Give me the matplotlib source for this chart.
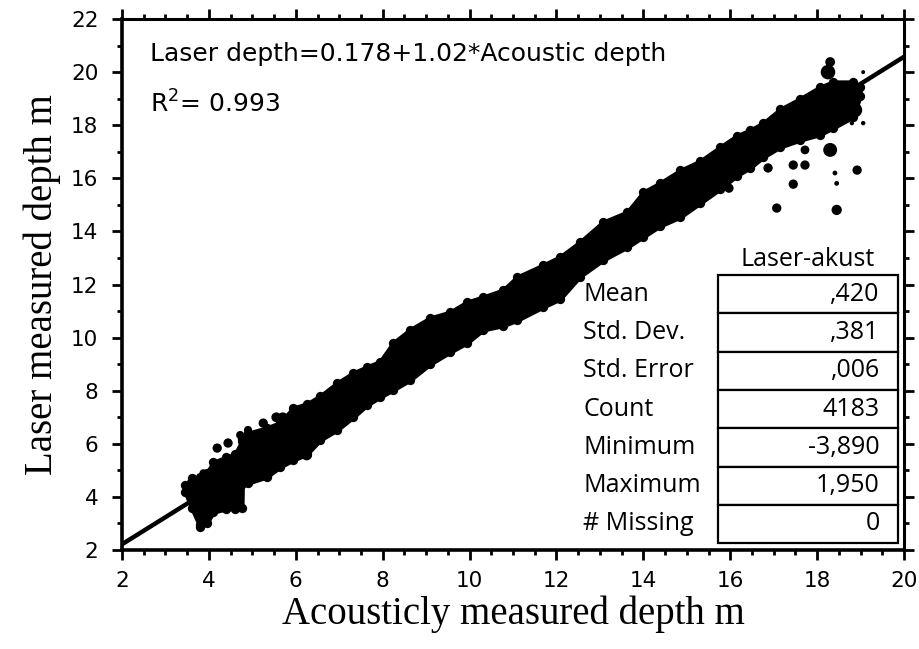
import numpy as np
import matplotlib
matplotlib.use('Agg')
from matplotlib import pyplot as plt
from matplotlib.ticker import MultipleLocator
from matplotlib.patches import Rectangle

# scatter cloud: x, lower edge, upper edge
band_x = [3.45, 3.6, 3.8, 3.95, 4.1, 4.4, 4.6, 4.76, 4.77, 4.9, 5.33, 5.64, 5.94,
          6.25, 6.56, 6.95, 7.32, 7.64, 7.94, 8.24, 8.63, 9.09, 9.55, 9.94, 10.31,
          10.77, 11.09, 11.69, 12.08, 12.54, 13.07, 13.63, 14.0, 14.38, 14.85,
          15.31, 15.77, 16.15, 16.46, 16.76, 17.15, 17.61, 18.07, 18.37, 18.83, 18.99]
band_lo = [4.2, 3.6, 2.87, 3.0, 3.43, 3.55, 3.55, 3.58, 4.5, 4.52, 4.75, 5.13, 5.39,
           5.6, 6.14, 6.52, 7.0, 7.46, 7.76, 8.03, 8.4, 9.0, 9.45, 9.8, 10.29,
           10.45, 10.65, 11.15, 11.45, 12.3, 12.92, 13.41, 13.8, 14.2, 14.54,
           15.07, 15.6, 16.1, 16.4, 16.8, 17.18, 17.44, 17.65, 17.9, 18.31, 19.1]
band_hi = [4.45, 4.7, 4.75, 4.9, 5.3, 5.5, 5.6, 6.1, 6.2, 6.4, 6.6, 6.8, 7.35,
           7.5, 7.8, 8.29, 8.67, 8.9, 9.1, 9.8, 10.3, 10.74, 10.96, 11.34, 11.53,
           11.79, 12.28, 12.73, 13.04, 13.6, 14.35, 14.73, 15.48, 15.82, 16.3,
           16.65, 17.18, 17.6, 17.82, 18.08, 18.6, 19.0, 19.44, 19.63, 19.63, 19.44]

# stray points outside the band
out_x = [3.5, 3.8, 3.95, 3.87, 4.19, 4.44, 4.72, 4.9, 5.25, 5.55, 5.7, 6.25, 6.72,
         15.97, 16.87, 17.07, 17.45, 17.45, 17.72, 17.72, 18.3, 18.25, 18.3,
         18.41, 18.45, 18.45, 18.87, 18.92, 18.8, 19.06, 19.06]
out_y = [4.37, 2.94, 3.05, 4.9, 5.84, 6.03, 6.33, 6.52, 6.78, 7.0, 7.0, 5.58, 6.44,
         15.63, 16.39, 14.88, 16.5, 15.78, 16.5, 17.07, 20.38, 20.0, 17.07,
         16.2, 15.81, 14.81, 18.57, 16.31, 18.08, 18.08, 20.0]
out_s = [30, 40, 40, 30, 45, 45, 35, 35, 45, 50, 50, 60, 45,
         45, 45, 45, 45, 45, 45, 40, 50, 110, 100,
         12, 12, 55, 110, 45, 10, 10, 8]

intercept = 0.178
slope = 1.02
r2 = 0.993

stat_names = ['Mean', 'Std. Dev.', 'Std. Error', 'Count', 'Minimum', 'Maximum', '# Missing']
stat_values = [',420', ',381', ',006', '4183', '-3,890', '1,950', '0']

fig = plt.figure(figsize=(9.19, 6.49), dpi=100)
ax = fig.add_axes([0.1328, 0.1525, 0.8509, 0.8182])

ax.fill_between(band_x, band_lo, band_hi, color='black', lw=3, edgecolor='black',
                joinstyle='round', zorder=2)
# bumps along the edges of the cloud
ax.scatter(band_x, band_lo, s=45, color='black', lw=0, zorder=2)
ax.scatter(band_x, band_hi, s=45, color='black', lw=0, zorder=2)
ax.scatter(out_x, out_y, s=out_s, color='black', lw=0, zorder=3)

line_x = np.array([2, 20])
ax.plot(line_x, intercept + slope * line_x, color='black', lw=3.2, zorder=4,
        solid_capstyle='butt')

ax.set_xlim(2, 20)
ax.set_ylim(2, 22)
ax.xaxis.set_major_locator(MultipleLocator(2))
ax.xaxis.set_minor_locator(MultipleLocator(0.5))
ax.yaxis.set_major_locator(MultipleLocator(2))
ax.yaxis.set_minor_locator(MultipleLocator(1))

for side in ['left', 'bottom']:
    ax.spines[side].set_linewidth(2.6)
for side in ['top', 'right']:
    ax.spines[side].set_linewidth(2.2)

ax.tick_params(which='both', direction='out', top=True, right=True, width=2)
ax.tick_params(which='major', length=7)
ax.tick_params(which='minor', length=3.5)
ax.tick_params(axis='y', which='major', pad=10)
ax.tick_params(axis='x', which='major', pad=8)
for lab in ax.get_xticklabels() + ax.get_yticklabels():
    lab.set_fontsize(15.5)
    lab.set_family('DejaVu Sans')

ax.set_xlabel('Acousticly measured depth m', family='Liberation Serif', fontsize=28, labelpad=3)
ax.set_ylabel('Laser measured depth m', family='Liberation Serif', fontsize=28, labelpad=7)

ax.text(0.036, 0.935, 'Laser depth=%.3f+%.2f*Acoustic depth' % (intercept, slope),
        transform=ax.transAxes, fontsize=18, family='DejaVu Sans', va='center')
ax.text(0.036, 0.84, 'R$^{2}$= %.3f' % r2, transform=ax.transAxes, fontsize=18,
        family='DejaVu Sans', va='center')

# summary table
box_l, box_r = 0.762, 0.992
box_top, box_bot = 0.518, 0.013
row_h = (box_top - box_bot) / len(stat_names)
ax.text((box_l + box_r) / 2, box_top + 0.03, 'Laser-akust', transform=ax.transAxes,
        fontsize=18, family='Open Sans', ha='center', va='center')
for i, (name, val) in enumerate(zip(stat_names, stat_values)):
    y0 = box_top - (i + 1) * row_h
    ax.add_patch(Rectangle((box_l, y0), box_r - box_l, row_h, transform=ax.transAxes,
                           facecolor='white', edgecolor='black', lw=1.6, zorder=5))
    ax.text(0.5895, y0 + row_h / 2, name, transform=ax.transAxes, fontsize=18,
            family='Open Sans', va='center', zorder=6)
    ax.text(0.969, y0 + row_h / 2, val, transform=ax.transAxes, fontsize=18,
            family='Open Sans', va='center', ha='right', zorder=6)

fig.savefig('out.png', dpi=100)
